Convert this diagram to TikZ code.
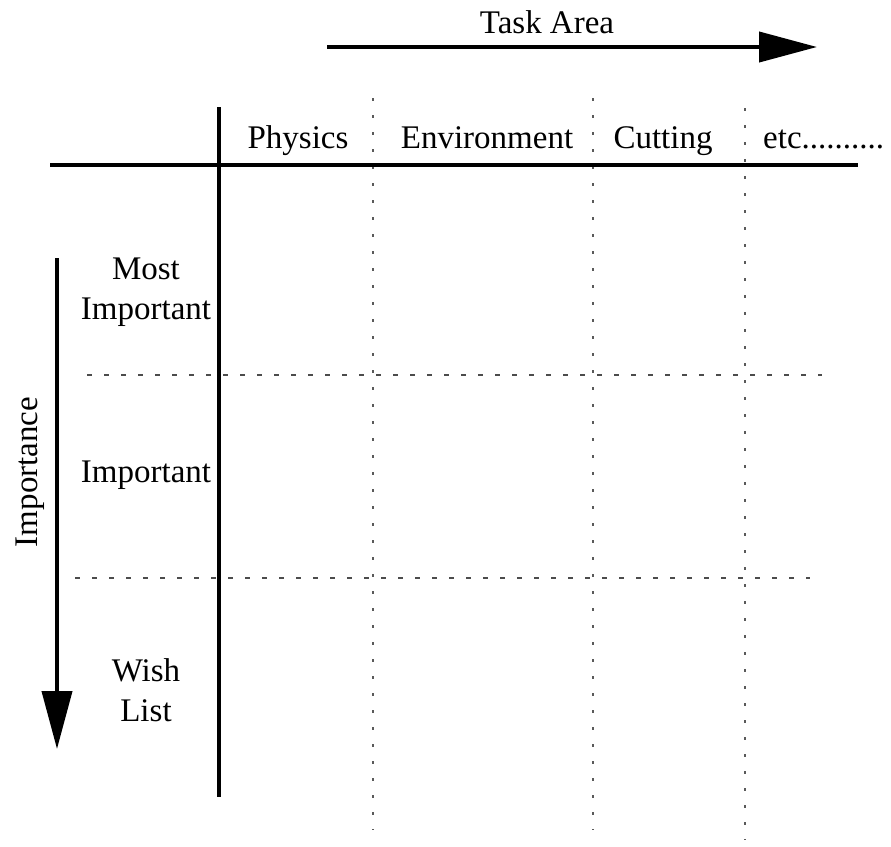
\documentclass[tikz,border=0pt]{standalone}
\usepackage{fontspec}
\setmainfont{Liberation Serif}
\usetikzlibrary{arrows.meta}
\begin{document}
\begin{tikzpicture}[x=1pt,y=-1pt,
  thickline/.style={line width=4pt,black},
  dotline/.style={line width=2.2pt,black!65,dash pattern=on 3pt off 14pt},
  dashline/.style={line width=2pt,black!70,dash pattern=on 5pt off 12pt},
  bigarrow/.style={line width=4pt,black,-{Triangle[length=58pt,width=30pt]}},
  lbl/.style={font=\fontsize{33}{40}\selectfont,inner sep=0pt,anchor=base,align=center}]
\useasboundingbox (0,0) rectangle (891,846);
\fill[white] (0,0) rectangle (891,846);
% coordinates
\coordinate (ta1) at (327,47);
\coordinate (ta2) at (817,47);
\coordinate (ia1) at (57,258);
\coordinate (ia2) at (57,749);
\coordinate (v1) at (219,107);
\coordinate (v2) at (219,797);
\coordinate (h1) at (50,165);
\coordinate (h2) at (858,165);
\coordinate (d1a) at (373,98);
\coordinate (d1b) at (373,830);
\coordinate (d2a) at (593,98);
\coordinate (d2b) at (593,830);
\coordinate (d3a) at (745,108);
\coordinate (d3b) at (745,840);
\coordinate (r1a) at (87,375);
\coordinate (r1b) at (822,375);
\coordinate (r2a) at (75,578);
\coordinate (r2b) at (810,578);
% dotted grid
\draw[dotline] (d1a) -- (d1b);
\draw[dotline] (d2a) -- (d2b);
\draw[dotline] (d3a) -- (d3b);
\draw[dashline] (r1a) -- (r1b);
\draw[dashline] (r2a) -- (r2b);
% thick axes
\draw[thickline] (v1) -- (v2);
\draw[thickline] (h1) -- (h2);
% arrows
\draw[bigarrow] (ta1) -- (ta2);
\draw[bigarrow] (ia1) -- (ia2);
% labels
\node[lbl] (task) at (547,33) {Task Area};
\node[lbl] (phys) at (298,148) {Physics};
\node[lbl] (env) at (487,148) {Environment};
\node[lbl] (cut) at (663,148) {Cutting};
\node[lbl,anchor=base west] (etc) at (763,148) {etc..........};
\node[lbl] (most) at (146,279) {Most};
\node[lbl] (most2) at (146,319) {Important};
\node[lbl] (imp) at (146,482) {Important};
\node[lbl] (wish) at (146,681) {Wish};
\node[lbl] (list) at (146,721) {List};
\node[lbl,rotate=90] (importance) at (37,472) {Importance};
\end{tikzpicture}
\end{document}
